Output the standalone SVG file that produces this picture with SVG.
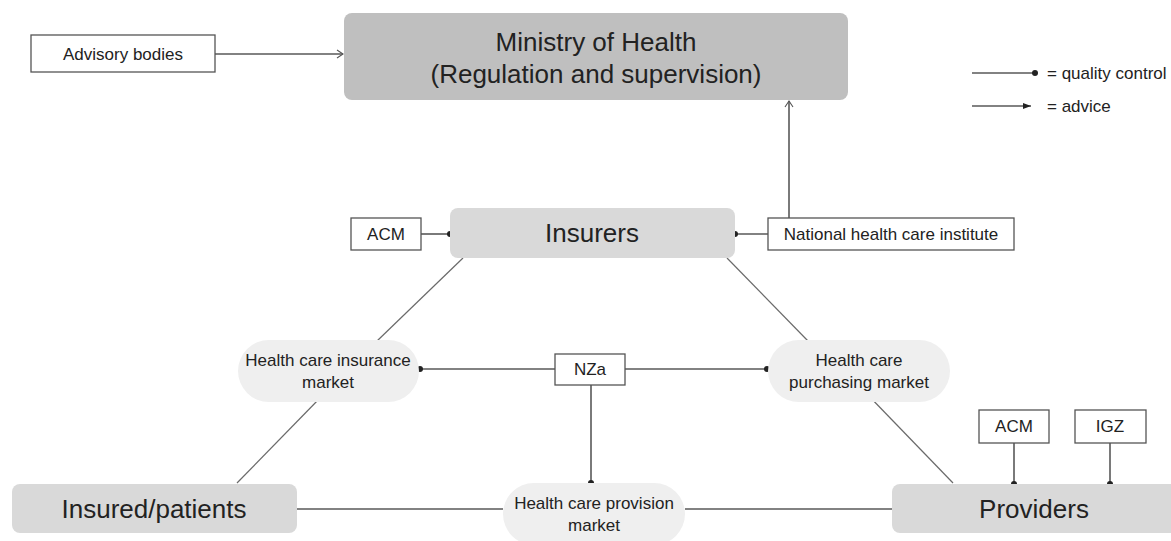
<svg xmlns="http://www.w3.org/2000/svg" width="1171" height="541" viewBox="0 0 1171 541">
<defs>
<style>
text{font-family:"Liberation Sans",Arial,sans-serif;fill:#222;}
.big{font-size:26px;text-anchor:middle;}
.sm{font-size:17px;text-anchor:middle;}
.leg{font-size:17px;}
.box{fill:#fff;stroke:#555;stroke-width:1.3;}
.min{fill:#bfbfbf;}
.main{fill:#d9d9d9;}
.pill{fill:#efefef;}
.c{stroke:#595959;stroke-width:1.6;fill:none;}
.d{stroke:#6a6a6a;stroke-width:1.2;fill:none;}
.dot{fill:#222;}
</style>
<marker id="open" markerWidth="10" markerHeight="10" refX="8" refY="5" orient="auto" markerUnits="userSpaceOnUse">
<path d="M2,1 L8,5 L2,9" fill="none" stroke="#555" stroke-width="1.1"/>
</marker>
<marker id="filled" markerWidth="10" markerHeight="10" refX="9" refY="5" orient="auto" markerUnits="userSpaceOnUse">
<path d="M1,2 L9,5 L1,8 Z" fill="#222"/>
</marker>
</defs>
<rect width="1171" height="541" fill="#fff"/>

<g id="connectors">
<line class="c" x1="215" y1="54" x2="343" y2="54" marker-end="url(#open)"/>
<line class="c" x1="789" y1="218" x2="789" y2="101" marker-end="url(#open)"/>
<line class="c" x1="421" y1="234" x2="450" y2="234"/>
<circle class="dot" cx="450" cy="234" r="3"/>
<line class="c" x1="735" y1="234" x2="768" y2="234"/>
<circle class="dot" cx="735" cy="234" r="3"/>
<line class="d" x1="463" y1="258" x2="377" y2="341"/>
<line class="d" x1="727" y1="258" x2="808" y2="341"/>
<line class="c" x1="420" y1="369" x2="555" y2="369"/>
<circle class="dot" cx="420" cy="369" r="3"/>
<line class="c" x1="625" y1="369" x2="767" y2="369"/>
<circle class="dot" cx="767" cy="369" r="3"/>
<line class="c" x1="591" y1="385" x2="591" y2="483"/>
<circle class="dot" cx="591" cy="483" r="3"/>
<line class="d" x1="320" y1="398" x2="237" y2="483"/>
<line class="d" x1="866" y1="393" x2="953" y2="483"/>
<line class="c" x1="297" y1="509" x2="503" y2="509"/>
<line class="c" x1="685" y1="509" x2="892" y2="509"/>
<line class="c" x1="1014" y1="443" x2="1014" y2="484"/>
<circle class="dot" cx="1014" cy="484" r="3"/>
<line class="c" x1="1110" y1="443" x2="1110" y2="484"/>
<circle class="dot" cx="1110" cy="484" r="3"/>
</g>

<g id="legend">
<line class="c" x1="972" y1="73" x2="1035" y2="73"/>
<circle class="dot" cx="1035" cy="73" r="3"/>
<text class="leg" x="1047" y="79">= quality control</text>
<line class="c" x1="972" y1="106" x2="1031" y2="106" marker-end="url(#filled)"/>
<text class="leg" x="1047" y="112">= advice</text>
</g>

<g id="advisory">
<rect class="box" x="31" y="35" width="184" height="37"/>
<text class="sm" x="123" y="60">Advisory bodies</text>
</g>

<g id="ministry">
<rect class="min" x="344" y="13" width="504" height="87" rx="8"/>
<text class="big" x="596" y="51">Ministry of Health</text>
<text class="big" x="596" y="83">(Regulation and supervision)</text>
</g>

<g id="acm-insurers">
<rect class="box" x="351" y="218" width="70" height="32"/>
<text class="sm" x="386" y="240">ACM</text>
</g>

<g id="insurers">
<rect class="main" x="450" y="208" width="285" height="50" rx="8"/>
<text class="big" x="592" y="242">Insurers</text>
</g>

<g id="nhci">
<rect class="box" x="768" y="218" width="246" height="32"/>
<text class="sm" x="891" y="240">National health care institute</text>
</g>

<g id="insurance-market">
<rect class="pill" x="238" y="340" width="181" height="62" rx="31"/>
<text class="sm" x="328" y="366">Health care insurance</text>
<text class="sm" x="328" y="388">market</text>
</g>

<g id="nza">
<rect class="box" x="555" y="354" width="70" height="31"/>
<text class="sm" x="590" y="375">NZa</text>
</g>

<g id="purchasing-market">
<rect class="pill" x="768" y="340" width="182" height="62" rx="31"/>
<text class="sm" x="859" y="366">Health care</text>
<text class="sm" x="859" y="388">purchasing market</text>
</g>

<g id="insured">
<rect class="main" x="12" y="484" width="285" height="49" rx="8"/>
<text class="big" x="154" y="518">Insured/patients</text>
</g>

<g id="provision-market">
<rect class="pill" x="503" y="483" width="182" height="62" rx="31"/>
<text class="sm" x="594" y="509">Health care provision</text>
<text class="sm" x="594" y="531">market</text>
</g>

<g id="acm-providers">
<rect class="box" x="979" y="410" width="70" height="33"/>
<text class="sm" x="1014" y="432">ACM</text>
</g>

<g id="igz">
<rect class="box" x="1075" y="410" width="71" height="33"/>
<text class="sm" x="1110" y="432">IGZ</text>
</g>

<g id="providers">
<rect class="main" x="892" y="484" width="290" height="49" rx="8"/>
<text class="big" x="1034" y="518">Providers</text>
</g>
</svg>
